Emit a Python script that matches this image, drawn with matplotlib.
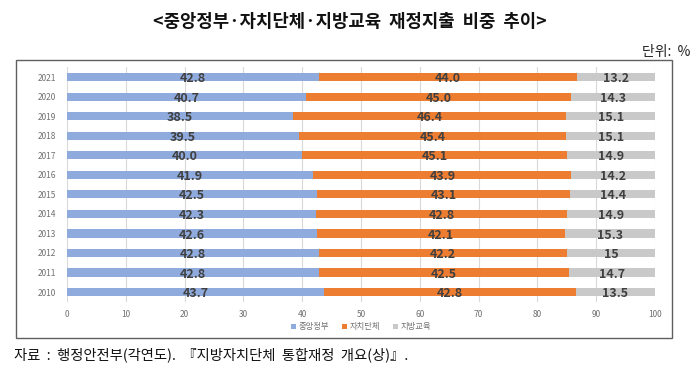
import matplotlib
matplotlib.use("Agg")
import matplotlib.pyplot as plt
from matplotlib.patches import Rectangle
import numpy as np

plt.rcParams['font.family'] = ['Noto Sans CJK KR', 'DejaVu Sans']

years = ['2010', '2011', '2012', '2013', '2014', '2015', '2016', '2017', '2018', '2019', '2020', '2021']
central = [43.7, 42.8, 42.8, 42.6, 42.3, 42.5, 41.9, 40.0, 39.5, 38.5, 40.7, 42.8]
local = [42.8, 42.5, 42.2, 42.1, 42.8, 43.1, 43.9, 45.1, 45.4, 46.4, 45.0, 44.0]
edu = [13.5, 14.7, 15, 15.3, 14.9, 14.4, 14.2, 14.9, 15.1, 15.1, 14.3, 13.2]
edu_labels = ['13.5', '14.7', '15', '15.3', '14.9', '14.4', '14.2', '14.9', '15.1', '15.1', '14.3', '13.2']
series_names = ['중앙정부', '자치단체', '지방교육']
colors = ['#8FAADC', '#ED7D31', '#C9C9C9']

fig = plt.figure(figsize=(7, 3.67), dpi=100)
ax = fig.add_axes([0.0957, 0.177, 0.84, 0.64])

y = np.arange(len(years))
h = 0.42
c = np.array(central)
l = np.array(local)
e = np.array(edu)
ax.barh(y, c, height=h, color=colors[0], label=series_names[0], zorder=2)
ax.barh(y, l, left=c, height=h, color=colors[1], label=series_names[1], zorder=2)
ax.barh(y, e, left=c + l, height=h, color=colors[2], label=series_names[2], zorder=2)

lab_kw = dict(ha='center', va='center', fontsize=9, fontweight='bold', color='#404040', zorder=3)
for i in range(len(years)):
    ax.text(c[i] / 2, y[i] - 0.08, f'{central[i]:.1f}', **lab_kw)
    ax.text(c[i] + l[i] / 2, y[i] - 0.08, f'{local[i]:.1f}', **lab_kw)
    ax.text(c[i] + l[i] + e[i] / 2, y[i] - 0.08, edu_labels[i], **lab_kw)

ax.set_xlim(0, 100)
ax.set_ylim(-0.51, 11.51)
ax.set_xticks(range(0, 101, 10))
ax.set_yticks(y)
ax.set_yticklabels(years)
ax.tick_params(axis='both', length=0, labelsize=6, labelcolor='#707070')
ax.tick_params(axis='y', pad=8)
ax.tick_params(axis='x', pad=6)
ax.grid(axis='x', color='#D9D9D9', linewidth=0.8, zorder=0)
for s in ax.spines.values():
    s.set_visible(False)

leg = ax.legend(loc='center', bbox_to_anchor=(0.5, -0.105), ncol=3, frameon=False,
                fontsize=6, handlelength=0.6, handleheight=0.6, handletextpad=0.25,
                columnspacing=1.6, labelcolor='#707070')

fig.patches.append(Rectangle((16 / 700, 1 - 338 / 367), (672 - 16) / 700, (338 - 60) / 367,
                             transform=fig.transFigure, fill=False, edgecolor='#606060',
                             linewidth=1.0))

fig.text(0.5, 1 - 22 / 367, '<중앙정부·자치단체·지방교육  재정지출  비중  추이>', ha='center', va='center',
         fontsize=12.8, fontweight='bold', color='#111111')
fig.text(690 / 700, 1 - 52 / 367, '단위:  %', ha='right', va='center', fontsize=10, color='#222222')
fig.text(14 / 700, 1 - 355 / 367, '자료  :  행정안전부(각연도).  『지방자치단체  통합재정  개요(상)』.', ha='left',
         va='center', fontsize=10.3, color='#111111')

fig.savefig('out.png', dpi=100)
